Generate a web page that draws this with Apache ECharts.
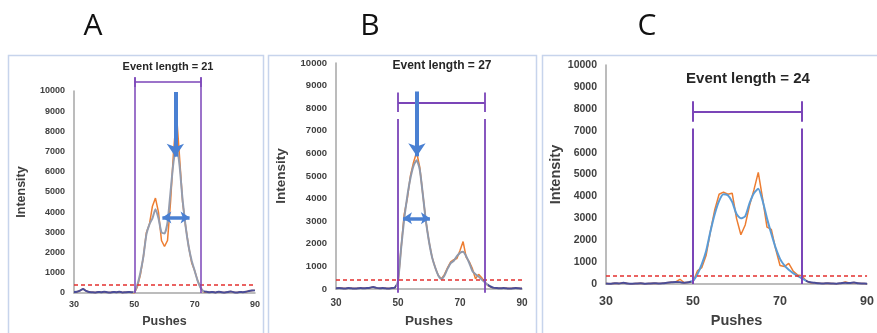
<!DOCTYPE html>
<html>
<head>
<meta charset="utf-8">
<script src="https://cdn.jsdelivr.net/npm/echarts@6/dist/echarts.min.js"></script>
<style>
  html, body { margin: 0; padding: 0; background: #fff; }
  #main { width: 877px; height: 333px; }
</style>
</head>
<body>
<div id="main"></div>
<script>
// pushes 30..90
const pushStart = 30;
const xTicks = [30, 50, 70, 90];

// panel A
const aOrange = [50, 60, 120, 200, 100, 50, 40, 30, 50, 40,
  60, 40, 30, 50, 40, 60, 30, 40, 50, 40,
  0, 300, 900, 1800, 3000, 3400, 4300, 4700, 4000, 2600,
  2300, 2600, 4500, 7000, 8800, 6700, 4500, 3300, 2300, 1500,
  1100, 600, 250, 50, 60, 40, 50, 30, 60, 40,
  30, 50, 80, 40, 30, 50, 40, 60, 100, 120, 130];
const aGray = [50, 60, 120, 200, 100, 50, 40, 30, 50, 40,
  60, 40, 30, 50, 40, 60, 30, 40, 50, 40,
  50, 400, 1000, 1800, 2900, 3400, 3700, 4150, 3700, 3000,
  2950, 3500, 5000, 6500, 7300, 6300, 4600, 3300, 2300, 1600,
  1100, 600, 250, 80, 60, 40, 50, 30, 60, 40,
  30, 50, 80, 40, 30, 50, 40, 60, 100, 120, 130];

// panel B
const bOrange = [30, 40, 30, 20, 40, 30, 20, 30, 40, 30,
  40, 60, 90, 50, 30, 40, 30, 20, 40, 60,
  250, 1800, 3300, 4000, 5000, 5600, 6050, 5400, 4200, 3000,
  2100, 1400, 950, 600, 450, 650, 950, 1200, 1300, 1350,
  1700, 2100, 1400, 1200, 900, 450, 650, 500, 300, 150,
  80, 50, 40, 30, 40, 30, 20, 30, 40, 30, 20];
const bGray = [30, 40, 30, 20, 40, 30, 20, 30, 40, 30,
  40, 60, 90, 50, 30, 40, 30, 20, 40, 60,
  350, 1800, 3100, 4100, 4900, 5450, 5700, 5300, 4200, 3000,
  2100, 1400, 950, 600, 450, 600, 900, 1150, 1250, 1450,
  1600, 1650, 1450, 1150, 800, 650, 550, 420, 300, 180,
  100, 50, 40, 30, 40, 30, 20, 30, 40, 30, 20];

// panel C
const cOrange = [30, 20, 40, 30, 60, 30, 20, 30, 40, 20,
  30, 40, 30, 40, 60, 80, 100, 220, 60, 80,
  100, 600, 750, 1300, 2400, 3400, 4100, 4200, 4100, 4150,
  3000, 2250, 2700, 3600, 4300, 5100, 3900, 2600, 2500, 1600,
  850, 800, 950, 600, 420, 380, 150, 60, 60, 40,
  30, 40, 30, 20, 40, 100, 50, 70, 40, 30, 20];
const cBlue = [30, 20, 40, 30, 60, 30, 20, 30, 40, 20,
  30, 40, 30, 40, 60, 80, 100, 90, 60, 80,
  150, 450, 900, 1500, 2400, 3200, 3800, 4100, 4050, 3750,
  3200, 3000, 3100, 3700, 4150, 4350, 3800, 3000, 2300, 1650,
  1150, 850, 650, 500, 380, 260, 150, 80, 60, 40,
  30, 40, 30, 20, 40, 60, 50, 70, 40, 30, 20];

// event windows [start, end], bracket level, bracket tick top/bottom, vertical top/bottom
const eventA = [50, 72], bracketA = [10437, 10680, 10200], vertA = [10680, 0];
const eventB = [50, 78], bracketB = [8260, 8700, 7830], vertB = [7520, -170];
const eventC = [50, 75], bracketC = [7860, 8350, 7410], vertC = [7100, 0];
const eventLengths = [21, 27, 24];
const threshold = 400;

// arrows: [x, yFrom, yTo] vertical, [y, xFrom, xTo] horizontal
const arrowDownA = [63.6, 9950, 6750], arrowSideA = [3740, 59.3, 68.3];
const arrowDownB = [56.1, 8740, 5870], arrowSideB = [3130, 51.6, 60.3];

const pair = arr => arr.map((v, i) => [pushStart + i, v]);

const PURPLE = '#7b45b8';
const BLUE = '#4a80d2';

function bracketLines(ev, br, vt, idx, w) {
  return {
    type: 'lines', coordinateSystem: 'cartesian2d', xAxisIndex: idx, yAxisIndex: idx,
    clip: false, silent: true, z: 5,
    lineStyle: { color: PURPLE, width: w, opacity: 1 },
    data: [
      { coords: [[ev[0], br[0]], [ev[1], br[0]]] },
      { coords: [[ev[0], br[1]], [ev[0], br[2]]] },
      { coords: [[ev[1], br[1]], [ev[1], br[2]]] },
      { coords: [[ev[0], vt[0]], [ev[0], vt[1]]] },
      { coords: [[ev[1], vt[0]], [ev[1], vt[1]]] }
    ]
  };
}

function arrowLines(down, side, idx) {
  return [{
    type: 'lines', coordinateSystem: 'cartesian2d', xAxisIndex: idx, yAxisIndex: idx,
    clip: false, silent: true, z: 6,
    symbol: ['none', 'arrow'], symbolSize: 13,
    lineStyle: { color: BLUE, width: 4, opacity: 1 },
    data: [{ coords: [[down[0], down[1]], [down[0], down[2]]] }]
  }, {
    type: 'lines', coordinateSystem: 'cartesian2d', xAxisIndex: idx, yAxisIndex: idx,
    clip: false, silent: true, z: 6,
    symbol: ['arrow', 'arrow'], symbolSize: 9,
    lineStyle: { color: BLUE, width: 3.5, opacity: 1 },
    data: [{ coords: [[side[1], side[0]], [side[2], side[0]]] }]
  }];
}

function thresholdLine() {
  return {
    silent: true, symbol: 'none', label: { show: false },
    lineStyle: { color: '#e3312f', type: [4, 3], width: 1.5 },
    data: [{ yAxis: threshold }]
  };
}

function dataSeries(orange, gray, idx) {
  return [
    {
      type: 'line', xAxisIndex: idx, yAxisIndex: idx, data: pair(orange),
      showSymbol: false, lineStyle: { color: '#ed7d31', width: 1.5 }, z: 2,
      markLine: thresholdLine()
    },
    {
      type: 'line', xAxisIndex: idx, yAxisIndex: idx, data: pair(gray),
      showSymbol: false, smooth: 0.2, lineStyle: { width: 2 }, z: 3
    }
  ];
}

const grids = [
  { left: 74, right: 622, top: 91, bottom: 36 },
  { left: 336, right: 355, top: 63, bottom: 40 },
  { left: 606, right: 5, top: 65, bottom: 44 }
];
const labelSize = [9, 9.5, 10.5];
const xLabelSize = [9, 10, 12.5];
const nameSize = [12.5, 13.5, 14.5];
const nameGapX = [22, 25, 26];
const nameGapY = [46, 48, 38];
const xMargin = [7, 9, 11];

const xAxes = grids.map((g, i) => ({
  gridIndex: i, type: 'value', min: 30, max: 90, interval: 20,
  name: 'Pushes', nameLocation: 'middle', nameGap: nameGapX[i],
  nameTextStyle: { fontSize: nameSize[i], fontWeight: 'bold', color: '#404040', fontFamily: 'Liberation Sans' },
  axisLine: { lineStyle: { color: '#a6a6a6', width: 1.5 } },
  axisTick: { show: false }, splitLine: { show: false },
  axisLabel: { fontSize: xLabelSize[i], fontWeight: 'bold', color: '#404040', margin: xMargin[i], fontFamily: 'Liberation Sans' }
}));
const yAxes = grids.map((g, i) => ({
  gridIndex: i, type: 'value', min: 0, max: 10000, interval: 1000,
  name: 'Intensity', nameLocation: 'middle', nameGap: nameGapY[i],
  nameTextStyle: { fontSize: nameSize[i], fontWeight: 'bold', color: '#404040', fontFamily: 'Liberation Sans' },
  axisLine: { show: true, lineStyle: { color: '#a6a6a6', width: 1.5 } },
  axisTick: { show: false }, splitLine: { show: false },
  axisLabel: { fontSize: labelSize[i], fontWeight: 'bold', color: '#404040', margin: 9, fontFamily: 'Liberation Sans',
    formatter: v => String(v) }
}));

const series = [].concat(
  dataSeries(aOrange, aGray, 0), [bracketLines(eventA, bracketA, vertA, 0, 1.5)], arrowLines(arrowDownA, arrowSideA, 0),
  dataSeries(bOrange, bGray, 1), [bracketLines(eventB, bracketB, vertB, 1, 1.8)], arrowLines(arrowDownB, arrowSideB, 1),
  dataSeries(cOrange, cBlue, 2), [bracketLines(eventC, bracketC, vertC, 2, 2)]
);

function baseMap(seriesIndex, ev, color) {
  return {
    type: 'piecewise', show: false, seriesIndex: seriesIndex, dimension: 0,
    pieces: [{ gte: ev[0] - 0.5, lte: ev[1] + 1, color: color }],
    outOfRange: { color: '#4a4d98' }
  };
}

const titleStyle = (size) => ({ fontSize: size, fontWeight: 'bold', color: '#262626', fontFamily: 'Liberation Sans' });
const letterStyle = { fontSize: 30, fontWeight: 'normal', color: '#111', fontFamily: 'Open Sans' };

const chart = echarts.init(document.getElementById('main'));
chart.setOption({
  animation: false,
  backgroundColor: '#fff',
  title: [
    { text: 'A', left: 88, top: 6, textAlign: 'center', textStyle: letterStyle },
    { text: 'B', left: 365, top: 6, textAlign: 'center', textStyle: letterStyle },
    { text: 'C', left: 642, top: 6, textAlign: 'center', textStyle: letterStyle },
    { text: 'Event length = ' + eventLengths[0], left: 168, top: 61, textAlign: 'center', textStyle: titleStyle(11), padding: 0 },
    { text: 'Event length = ' + eventLengths[1], left: 442, top: 60, textAlign: 'center', textStyle: titleStyle(12), padding: 0 },
    { text: 'Event length = ' + eventLengths[2], left: 748, top: 71, textAlign: 'center', textStyle: titleStyle(15), padding: 0 }
  ],
  graphic: [
    { type: 'rect', shape: { x: 8.5, y: 55.5, width: 255, height: 290 }, style: { fill: 'none', stroke: '#c7d4ec', lineWidth: 1.5 }, z: -1 },
    { type: 'rect', shape: { x: 268.5, y: 55.5, width: 268, height: 290 }, style: { fill: 'none', stroke: '#c7d4ec', lineWidth: 1.5 }, z: -1 },
    { type: 'rect', shape: { x: 542.5, y: 55.5, width: 340, height: 290 }, style: { fill: 'none', stroke: '#c7d4ec', lineWidth: 1.5 }, z: -1 }
  ],
  visualMap: [
    baseMap(1, eventA, '#949cae'),
    baseMap(6, eventB, '#8f98aa'),
    baseMap(11, eventC, '#5b9bd5')
  ],
  grid: grids,
  xAxis: xAxes,
  yAxis: yAxes,
  series: series
});
</script>
</body>
</html>
